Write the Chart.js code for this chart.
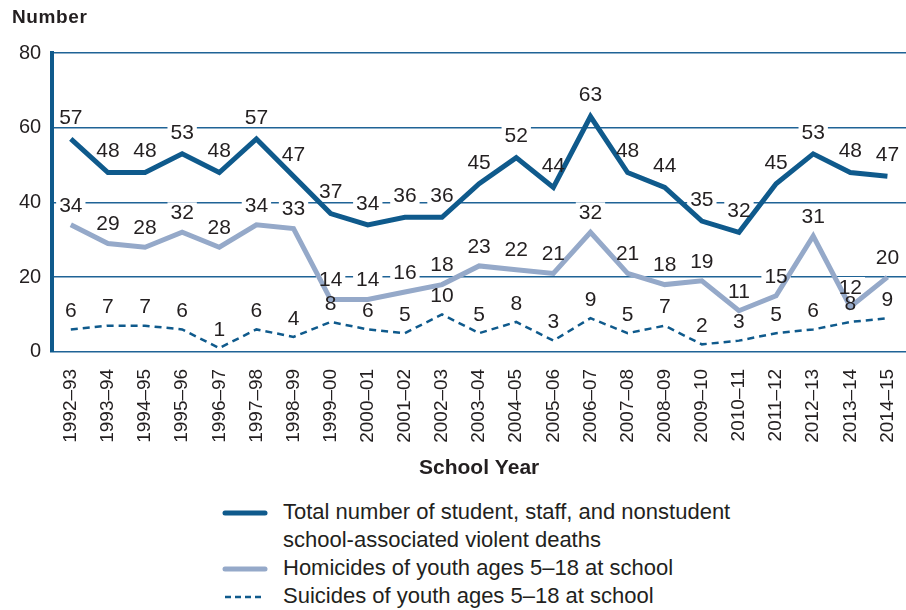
<!DOCTYPE html>
<html>
<head>
<meta charset="utf-8">
<script src="https://cdn.jsdelivr.net/npm/chart.js@4"></script>
<style>
    body { margin: 0; background: #fff; font-family: "Liberation Sans", Arial, sans-serif; color: #231f20; }
    #wrap { position: relative; width: 906px; height: 610px; }
    #chart { position: absolute; left: 0; top: 0; }
    #ytitle { position: absolute; left: 12px; top: 6px; font-weight: bold; font-size: 19px; letter-spacing: 0.6px; }
    #legend { position: absolute; left: 222px; top: 498px; font-size: 22px; line-height: 28px; }
    .item { display: flex; align-items: flex-start; }
    .item svg { flex: none; margin-top: 12px; margin-right: 15px; }
</style>
</head>
<body>
<div id="wrap">
    <canvas id="chart" width="906" height="481"></canvas>
    <div id="ytitle">Number</div>
    <div id="legend"></div>
</div>
<script>
const schoolYears = ['1992–93', '1993–94', '1994–95', '1995–96', '1996–97', '1997–98', '1998–99', '1999–00',
    '2000–01', '2001–02', '2002–03', '2003–04', '2004–05', '2005–06', '2006–07', '2007–08', '2008–09',
    '2009–10', '2010–11', '2011–12', '2012–13', '2013–14', '2014–15'];
const totalDeaths = [57, 48, 48, 53, 48, 57, 47, 37, 34, 36, 36, 45, 52, 44, 63, 48, 44, 35, 32, 45, 53, 48, 47];
const homicides = [34, 29, 28, 32, 28, 34, 33, 14, 14, 16, 18, 23, 22, 21, 32, 21, 18, 19, 11, 15, 31, 12, 20];
const suicides = [6, 7, 7, 6, 1, 6, 4, 8, 6, 5, 10, 5, 8, 3, 9, 5, 7, 2, 3, 5, 6, 8, 9];
const yTicks = [0, 20, 40, 60, 80];

const legendNames = [
    ['Total number of student, staff, and nonstudent', 'school-associated violent deaths'],
    ['Homicides of youth ages 5–18 at school'],
    ['Suicides of youth ages 5–18 at school']
];

const darkBlue = '#0f5a8c';
const lightBlue = '#95a9c9';
const textColor = '#231f20';
const font = '"Liberation Sans", Arial, sans-serif';
const labelFont = '21px ' + font;

function eachLabel(chart, fn) {
    chart.data.datasets.forEach((ds, i) => {
        chart.getDatasetMeta(i).data.forEach((pt, j) => {
            fn(String(ds.data[j]), pt.x, pt.y - ds.labelGap);
        });
    });
}

// value labels: white box under the lines (cuts the grid), text on top
const pointLabels = {
    id: 'pointLabels',
    beforeDatasetsDraw(chart) {
        const ctx = chart.ctx;
        ctx.save();
        ctx.font = labelFont;
        ctx.fillStyle = '#fff';
        eachLabel(chart, (txt, x, y) => {
            const w = ctx.measureText(txt).width;
            ctx.fillRect(x - w / 2 - 3, y - 10, w + 6, 20);
        });
        ctx.restore();
    },
    afterDatasetsDraw(chart) {
        const ctx = chart.ctx;
        ctx.save();
        ctx.font = labelFont;
        ctx.textAlign = 'center';
        ctx.textBaseline = 'middle';
        ctx.fillStyle = textColor;
        eachLabel(chart, (txt, x, y) => ctx.fillText(txt, x, y + 1));
        ctx.restore();
    }
};

const ctx = document.getElementById('chart').getContext('2d');
const chart = new Chart(ctx, {
    type: 'line',
    data: {
        labels: schoolYears,
        datasets: [{
            label: 'Total',
            data: totalDeaths,
            borderColor: darkBlue,
            borderWidth: 5,
            labelGap: 22
        }, {
            label: 'Homicides',
            data: homicides,
            borderColor: lightBlue,
            borderWidth: 5,
            labelGap: 20
        }, {
            label: 'Suicides',
            data: suicides,
            borderColor: darkBlue,
            borderWidth: 2.5,
            borderDash: [7, 5],
            labelGap: 19
        }]
    },
    options: {
        responsive: false,
        animation: false,
        elements: {
            point: { radius: 0 },
            line: { tension: 0, borderJoinStyle: 'miter', borderCapStyle: 'butt' }
        },
        layout: { padding: { top: 53, left: 8, right: 0, bottom: 0 } },
        plugins: {
            legend: { display: false },
            tooltip: { enabled: false }
        },
        scales: {
            x: {
                offset: true,
                grid: { display: false },
                border: { display: false },
                afterFit: scale => { scale.paddingRight = 0; },
                ticks: {
                    color: textColor,
                    font: { family: font, size: 19 },
                    maxRotation: 90,
                    minRotation: 90,
                    padding: 9,
                    autoSkip: false
                },
                title: {
                    display: true,
                    text: 'School Year',
                    color: textColor,
                    font: { family: font, size: 21, weight: 'bold' },
                    padding: { top: 4, bottom: 0 }
                }
            },
            y: {
                min: 0,
                max: 80,
                afterBuildTicks: scale => { scale.ticks = yTicks.map(v => ({ value: v })); },
                grid: { color: '#1f6396', lineWidth: 1.5, drawTicks: false },
                border: { display: true, color: darkBlue, width: 4 },
                ticks: {
                    color: textColor,
                    font: { family: font, size: 20 },
                    padding: 11
                }
            }
        }
    },
    plugins: [pointLabels]
});

// legend built from the datasets
const legend = document.getElementById('legend');
chart.data.datasets.forEach((ds, i) => {
    const item = document.createElement('div');
    item.className = 'item';
    const dash = ds.borderDash ? 'stroke-dasharray="6 4"' : '';
    const cap = ds.borderDash ? 'butt' : 'round';
    item.innerHTML = '<svg width="46" height="6"><line x1="3" y1="3" x2="43" y2="3" stroke="' + ds.borderColor +
        '" stroke-width="' + (ds.borderDash ? 2.5 : 5) + '" stroke-linecap="' + cap + '" ' + dash + '/></svg>' +
        '<div>' + legendNames[i].join('<br>') + '</div>';
    legend.appendChild(item);
});
</script>
</body>
</html>
